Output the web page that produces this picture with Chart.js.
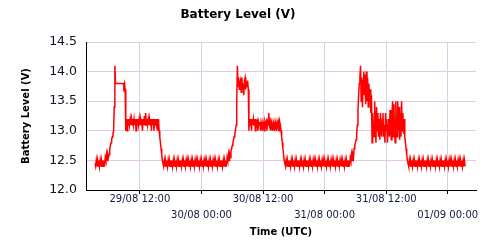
<!DOCTYPE html>
<html lang="en">
<head>
    <meta charset="UTF-8">
    <title>Battery Level (V)</title>
    <script src="https://cdn.jsdelivr.net/npm/chart.js"></script>
    <style>
        body {
            margin: 0;
            background: #ffffff;
        }
        canvas {
            display: block;
        }
    </style>
</head>
<body>
    <canvas id="batteryChart" width="500" height="250"></canvas>

    <script>
        // samples every 7.5 min, hours counted from 29/08 00:00 UTC
        const startHour = 3.25;
        const stepHours = 0.125;

        const volts = [
            // 29/08 03:15
            12.45, 12.4, 12.5, 12.4, 12.5, 12.4, 12.5, 12.4, 12.5, 12.4, 12.5, 12.4,
            12.5, 12.4, 12.5, 12.4, 12.55, 12.5, 12.6, 12.5, 12.6, 12.55, 12.6, 12.7,
            // 06:15
            12.75, 12.8, 12.85, 12.9, 12.95, 13.0, 13.4, 14.1, 13.8, 13.8, 13.8, 13.8,
            13.8, 13.8, 13.8, 13.8, 13.8, 13.8, 13.8, 13.8, 13.8, 13.75, 13.8, 13.7,
            // 09:15
            13.0, 13.2, 13.0, 13.2, 13.1, 13.2, 13.1, 13.2, 13.1, 13.2, 13.1, 13.2,
            13.1, 13.2, 13.1, 13.2, 13.0, 13.2, 13.1, 13.2, 13.1, 13.2, 13.1, 13.2,
            // 12:15
            13.1, 13.2, 13.0, 13.2, 13.1, 13.25, 13.1, 13.3, 13.1, 13.2, 13.1, 13.2,
            13.1, 13.2, 13.1, 13.2, 13.0, 13.2, 13.1, 13.2, 13.0, 13.2, 13.1, 13.2,
            // 15:15
            13.1, 13.2, 13.0, 13.2, 13.0, 12.9, 12.8, 12.7, 12.6, 12.5, 12.45, 12.4,
            12.5, 12.4, 12.5, 12.4, 12.5, 12.4, 12.5, 12.4, 12.5, 12.4, 12.5, 12.4,
            // 18:15
            12.5, 12.4, 12.5, 12.4, 12.5, 12.4, 12.5, 12.4, 12.5, 12.4, 12.5, 12.4,
            12.5, 12.4, 12.5, 12.4, 12.5, 12.4, 12.5, 12.4, 12.5, 12.4, 12.5, 12.4,
            // 21:15
            12.5, 12.4, 12.5, 12.4, 12.5, 12.4, 12.5, 12.4, 12.5, 12.4, 12.5, 12.4,
            12.5, 12.4, 12.5, 12.4, 12.5, 12.4, 12.5, 12.4, 12.5, 12.4, 12.5, 12.4,
            // 30/08 00:15
            12.5, 12.4, 12.5, 12.4, 12.5, 12.4, 12.5, 12.4, 12.5, 12.4, 12.5, 12.4,
            12.5, 12.4, 12.5, 12.4, 12.5, 12.4, 12.5, 12.4, 12.5, 12.4, 12.5, 12.4,
            // 03:15
            12.5, 12.4, 12.5, 12.4, 12.5, 12.4, 12.5, 12.4, 12.5, 12.4, 12.5, 12.4,
            12.5, 12.4, 12.55, 12.5, 12.6, 12.5, 12.6, 12.55, 12.65, 12.7, 12.75, 12.8,
            // 06:15
            12.85, 12.9, 12.95, 13.0, 13.1, 13.5, 14.1, 13.75, 13.9, 13.7, 13.8, 13.85,
            13.65, 13.9, 13.7, 13.8, 13.6, 13.85, 13.9, 13.7, 13.8, 13.75, 13.85, 13.7,
            // 09:15
            13.0, 13.2, 13.1, 13.2, 13.0, 13.2, 13.1, 13.2, 13.1, 13.2, 13.0, 13.2,
            13.1, 13.15, 13.0, 13.15, 13.1, 13.15, 13.0, 13.15, 13.1, 13.0, 13.15, 13.1,
            // 12:15
            13.0, 13.15, 13.1, 13.15, 13.0, 13.15, 13.1, 13.3, 13.1, 13.15, 13.0, 13.15,
            13.1, 13.0, 13.15, 13.1, 13.0, 13.15, 13.1, 13.0, 13.15, 13.1, 13.15, 13.0,
            // 15:15
            13.15, 13.1, 13.0, 12.9, 12.8, 12.7, 12.6, 12.5, 12.45, 12.4, 12.5, 12.4,
            12.5, 12.4, 12.5, 12.4, 12.5, 12.4, 12.5, 12.4, 12.5, 12.4, 12.5, 12.4,
            // 18:15
            12.5, 12.4, 12.5, 12.4, 12.5, 12.4, 12.5, 12.4, 12.5, 12.4, 12.5, 12.4,
            12.5, 12.4, 12.5, 12.4, 12.5, 12.4, 12.5, 12.4, 12.5, 12.4, 12.5, 12.4,
            // 21:15
            12.5, 12.4, 12.5, 12.4, 12.5, 12.4, 12.5, 12.4, 12.5, 12.4, 12.5, 12.4,
            12.5, 12.4, 12.5, 12.4, 12.5, 12.4, 12.5, 12.4, 12.5, 12.4, 12.5, 12.4,
            // 31/08 00:15
            12.5, 12.4, 12.5, 12.4, 12.5, 12.4, 12.5, 12.4, 12.5, 12.4, 12.5, 12.4,
            12.5, 12.4, 12.5, 12.4, 12.5, 12.4, 12.5, 12.4, 12.5, 12.4, 12.5, 12.4,
            // 03:15
            12.5, 12.4, 12.5, 12.4, 12.5, 12.4, 12.5, 12.4, 12.5, 12.4, 12.5, 12.4,
            12.5, 12.4, 12.55, 12.5, 12.6, 12.5, 12.6, 12.55, 12.7, 12.75, 12.8, 12.85,
            // 06:15
            12.95, 13.1, 13.35, 13.6, 13.8, 13.9, 14.1, 13.5, 13.9, 13.4, 13.85, 14.0,
            13.6, 13.95, 13.45, 14.0, 13.5, 13.9, 13.4, 13.8, 13.5, 13.7, 13.3, 13.6,
            // 09:15
            12.8, 13.3, 13.0, 12.9, 13.5, 13.1, 12.8, 13.4, 13.0, 13.3, 12.9, 13.2,
            12.85, 13.3, 13.0, 12.9, 13.2, 13.3, 12.9, 13.1, 12.8, 13.3, 13.0, 13.2,
            // 12:15
            12.8, 13.1, 13.2, 12.9, 13.35, 13.0, 12.85, 13.3, 13.5, 12.9, 13.45, 13.0,
            12.8, 13.5, 13.1, 12.9, 13.5, 13.0, 13.4, 12.85, 13.3, 12.9, 13.5, 13.0,
            // 15:15
            13.3, 12.95, 13.2, 12.9, 12.8, 12.7, 12.6, 12.5, 12.45, 12.4, 12.5, 12.4,
            12.5, 12.4, 12.5, 12.4, 12.5, 12.4, 12.5, 12.4, 12.5, 12.4, 12.5, 12.4,
            // 18:15
            12.5, 12.4, 12.5, 12.4, 12.5, 12.4, 12.5, 12.4, 12.5, 12.4, 12.5, 12.4,
            12.5, 12.4, 12.5, 12.4, 12.5, 12.4, 12.5, 12.4, 12.5, 12.4, 12.5, 12.4,
            // 21:15
            12.5, 12.4, 12.5, 12.4, 12.5, 12.4, 12.5, 12.4, 12.5, 12.4, 12.5, 12.4,
            12.5, 12.4, 12.5, 12.4, 12.5, 12.4, 12.5, 12.4, 12.5, 12.4, 12.5, 12.4,
            // 01/09 00:15
            12.5, 12.4, 12.5, 12.4, 12.5, 12.4, 12.5, 12.4, 12.5, 12.4, 12.5, 12.4,
            12.5, 12.4, 12.5, 12.4, 12.5, 12.4, 12.5, 12.4, 12.5, 12.4, 12.5, 12.4,
            // 03:15
            12.5, 12.4
        ];

        const xMin = 1.5;
        const xMax = 77.5;
        const yTicks = [12.0, 12.5, 13.0, 13.5, 14.0, 14.5];

        const points = volts.map((v, i) => ({ x: startHour + i * stepHours, y: v }));

        const pad = (n) => String(n).padStart(2, '0');
        const formatHour = (h) => {
            const d = new Date(Date.UTC(2019, 7, 29) + h * 3600 * 1000);
            return `${pad(d.getUTCDate())}/${pad(d.getUTCMonth() + 1)} ${pad(d.getUTCHours())}:${pad(d.getUTCMinutes())}`;
        };

        Chart.defaults.font.family = "'DejaVu Sans', Verdana, sans-serif";
        Chart.defaults.color = '#000000';

        new Chart(document.getElementById('batteryChart'), {
            type: 'line',
            data: {
                datasets: [{
                    label: 'Battery Level (V)',
                    data: points,
                    borderColor: '#ff0000',
                    borderWidth: 1.5,
                    pointRadius: 0,
                    tension: 0,
                    fill: false,
                }],
            },
            options: {
                responsive: false,
                animation: false,
                layout: { padding: { left: 0, right: 24, top: 0, bottom: 0 } },
                plugins: {
                    legend: { display: false },
                    tooltip: { enabled: false },
                    title: {
                        display: true,
                        text: 'Battery Level (V)',
                        color: '#000000',
                        font: { size: 12, weight: 'bold' },
                        padding: { top: 8, bottom: 19.6 },
                    },
                },
                scales: {
                    x: {
                        type: 'linear',
                        min: xMin,
                        max: xMax,
                        afterFit: (scale) => { scale.height = 60; },
                        border: { display: true, color: '#000000', width: 1 },
                        grid: {
                            color: '#c9d6e8',
                            borderDash: [1, 2],
                            tickColor: '#000000',
                            tickBorderDash: [],
                            tickLength: 4,
                        },
                        ticks: {
                            stepSize: 12,
                            includeBounds: false,
                            autoSkip: false,
                            maxRotation: 0,
                            padding: -3,
                            color: '#0c1c3c',
                            font: { size: 10, lineHeight: 1.6 },
                            callback: (value, index) => index % 2 === 0 ? formatHour(value) : ['', formatHour(value)],
                        },
                        title: {
                            display: true,
                            text: 'Time (UTC)',
                            color: '#000000',
                            font: { size: 10, weight: 'bold' },
                            padding: { top: 0, bottom: 12 },
                        },
                    },
                    y: {
                        min: yTicks[0],
                        max: yTicks[yTicks.length - 1],
                        afterFit: (scale) => { scale.width = 86; },
                        afterBuildTicks: (scale) => { scale.ticks = yTicks.map(v => ({ value: v })); },
                        border: { display: true, color: '#000000', width: 1 },
                        grid: {
                            color: '#e2c8e2',
                            borderDash: [1, 2],
                            drawTicks: false,
                        },
                        ticks: {
                            padding: 9,
                            color: '#111122',
                            font: { size: 12.5 },
                            callback: (value) => value.toFixed(1),
                        },
                        title: {
                            display: true,
                            text: 'Battery Level (V)',
                            color: '#000000',
                            font: { size: 10, weight: 'bold' },
                            padding: { top: 20, bottom: 0 },
                        },
                    },
                },
            },
        });
    </script>
</body>
</html>
